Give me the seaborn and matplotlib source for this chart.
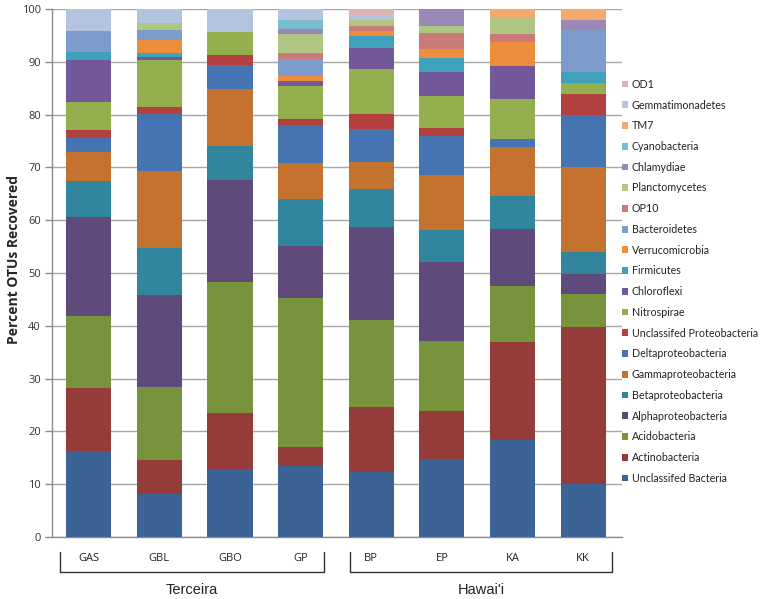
import matplotlib
matplotlib.use("Agg")
import matplotlib.pyplot as plt
import seaborn as sns
import numpy as np
import pandas as pd
from matplotlib.patches import Patch
from matplotlib.lines import Line2D

sites = ["GAS", "GBL", "GBO", "GP", "BP", "EP", "KA", "KK"]
groups = ["Terceira", "Hawai'i"]

categories = ["Unclassifed Bacteria", "Actinobacteria", "Acidobacteria", "Alphaproteobacteria",
              "Betaproteobacteria", "Gammaproteobacteria", "Deltaproteobacteria",
              "Unclassifed Proteobacteria", "Nitrospirae", "Chloroflexi", "Firmicutes",
              "Verrucomicrobia", "Bacteroidetes", "OP10", "Planctomycetes", "Chlamydiae",
              "Cyanobacteria", "TM7", "Gemmatimonadetes", "OD1"]

unclass_bacteria = [16.2, 8.2, 12.8, 13.4, 12.4, 14.8, 18.4, 10.0]
actinobacteria   = [12.1, 6.4, 10.7, 3.7, 12.3, 9.0, 18.5, 29.8]
acidobacteria    = [13.6, 13.9, 24.8, 28.2, 16.4, 13.4, 10.7, 6.2]
alphaproteo      = [18.8, 17.3, 19.3, 9.9, 17.6, 14.9, 10.7, 3.9]
betaproteo       = [6.7, 8.9, 6.5, 8.8, 7.2, 6.0, 6.3, 4.1]
gammaproteo      = [5.5, 14.6, 10.7, 6.8, 5.1, 10.5, 9.2, 16.0]
deltaproteo      = [2.7, 10.8, 4.5, 7.2, 6.2, 7.4, 1.6, 9.9]
unclass_proteo   = [1.4, 1.3, 2.0, 1.1, 3.0, 1.5, 0.0, 4.0]
nitrospirae      = [5.4, 8.9, 4.3, 6.3, 8.4, 6.0, 7.6, 2.0]
chloroflexi      = [7.9, 0.7, 0.0, 1.0, 4.1, 4.5, 6.2, 0.0]
firmicutes       = [1.6, 0.6, 0.0, 0.0, 2.1, 2.8, 0.0, 2.1]
verrucomicrobia  = [0.0, 2.6, 0.0, 1.0, 1.0, 1.6, 4.6, 0.0]
bacteroidetes    = [3.9, 1.8, 0.0, 3.1, 0.0, 0.0, 0.0, 8.0]
op10             = [0.0, 0.0, 0.0, 1.1, 1.0, 3.0, 1.5, 0.0]
planctomycetes   = [0.0, 1.3, 0.0, 3.6, 1.1, 1.4, 3.1, 0.0]
chlamydiae       = [0.0, 0.0, 0.0, 1.0, 0.0, 3.2, 0.0, 1.9]
cyanobacteria    = [0.0, 0.0, 0.0, 1.7, 0.0, 0.0, 0.0, 0.0]
tm7              = [0.0, 0.0, 0.0, 0.0, 0.0, 0.0, 1.6, 2.1]
gemmatimonadetes = [4.2, 2.7, 4.4, 2.1, 1.0, 0.0, 0.0, 0.0]
od1              = [0.0, 0.0, 0.0, 0.0, 1.1, 0.0, 0.0, 0.0]

series = [unclass_bacteria, actinobacteria, acidobacteria, alphaproteo, betaproteo,
          gammaproteo, deltaproteo, unclass_proteo, nitrospirae, chloroflexi, firmicutes,
          verrucomicrobia, bacteroidetes, op10, planctomycetes, chlamydiae, cyanobacteria,
          tm7, gemmatimonadetes, od1]

colors = ["#3C6396", "#953B39", "#77933C", "#604A7B", "#31859C", "#C3732F", "#4673B1",
          "#B3403E", "#93AF4E", "#725899", "#3FA1BB", "#EE8D3C", "#7E9CCB", "#C97B7A",
          "#AFC783", "#9A88B6", "#79BDD1", "#F6A86D", "#B5C4DE", "#DDB4B2"]

sns.set_theme(style="white")
plt.rcParams['font.family'] = ['Lato', 'DejaVu Sans']

fig = plt.figure(figsize=(7.63, 5.99), dpi=100)
W, H = 763, 599
ax = fig.add_axes([52 / W, 1 - 537 / H, (622 - 52) / W, (537 - 9) / H])

df = pd.DataFrame({"site": sites})
bottom = np.zeros(len(sites))
for cat, vals, col in zip(categories, series, colors):
    df["v"] = vals
    sns.barplot(data=df, x="site", y="v", order=sites, color=col, saturation=1,
                width=0.64, bottom=bottom, errorbar=None, ax=ax, linewidth=0, zorder=3)
    bottom = bottom + np.array(vals)

ax.set_xlim(-0.52, 7.55)
ax.set_ylim(0, 100)
ax.set_yticks(range(0, 101, 10))
ax.yaxis.grid(True, color="#A6A6A6", linewidth=1.0, zorder=0)
ax.set_axisbelow(True)
ax.set_xticks([])
ax.set_xlabel("")
ax.set_ylabel("Percent OTUs Recovered", fontsize=10, fontweight="bold",
              family=["Open Sans", "DejaVu Sans"])
ax.yaxis.set_label_coords(-0.055, 0.525)
for s in ["top", "right"]:
    ax.spines[s].set_visible(False)
for s in ["left", "bottom"]:
    ax.spines[s].set_color("#8C8C8C")
    ax.spines[s].set_linewidth(1.0)
ax.tick_params(axis="y", left=True, length=5, width=1, color="#8C8C8C",
               labelsize=8, labelcolor="#333333", pad=3)
for lab in ax.get_yticklabels():
    lab.set_family(["Open Sans", "DejaVu Sans"])

# site labels and group brackets
trans = ax.get_xaxis_transform()
for i, s in enumerate(sites):
    ax.text(i, -0.040, s, transform=trans, ha="center", va="center", fontsize=8,
            family=["Open Sans", "DejaVu Sans"],
            color="#222222", clip_on=False)

brackets = [(-0.40, 3.33), (3.70, 7.41)]
for (x0, x1), g in zip(brackets, groups):
    ax.add_line(Line2D([x0, x0, x1, x1], [-0.028, -0.066, -0.066, -0.028], transform=trans,
                       color="#333333", linewidth=1.0, clip_on=False))
    ax.text((x0 + x1) / 2, -0.100, g, transform=trans, ha="center", va="center",
            fontsize=10.5, family=["Liberation Sans Narrow", "Liberation Sans", "DejaVu Sans"],
            color="#222222", clip_on=False)

handles = [Patch(facecolor=c, edgecolor="none") for c in colors][::-1]
labels = categories[::-1]
fig.legend(handles, labels, loc="upper left", bbox_to_anchor=(622 / W, 1 - 78.8 / H),
           frameon=False, fontsize=7.7, handlelength=0.6, handleheight=0.6,
           handletextpad=0.3, labelspacing=0.91, borderaxespad=0, borderpad=0,
           labelcolor="#222222")

fig.savefig("out.png", dpi=100)
